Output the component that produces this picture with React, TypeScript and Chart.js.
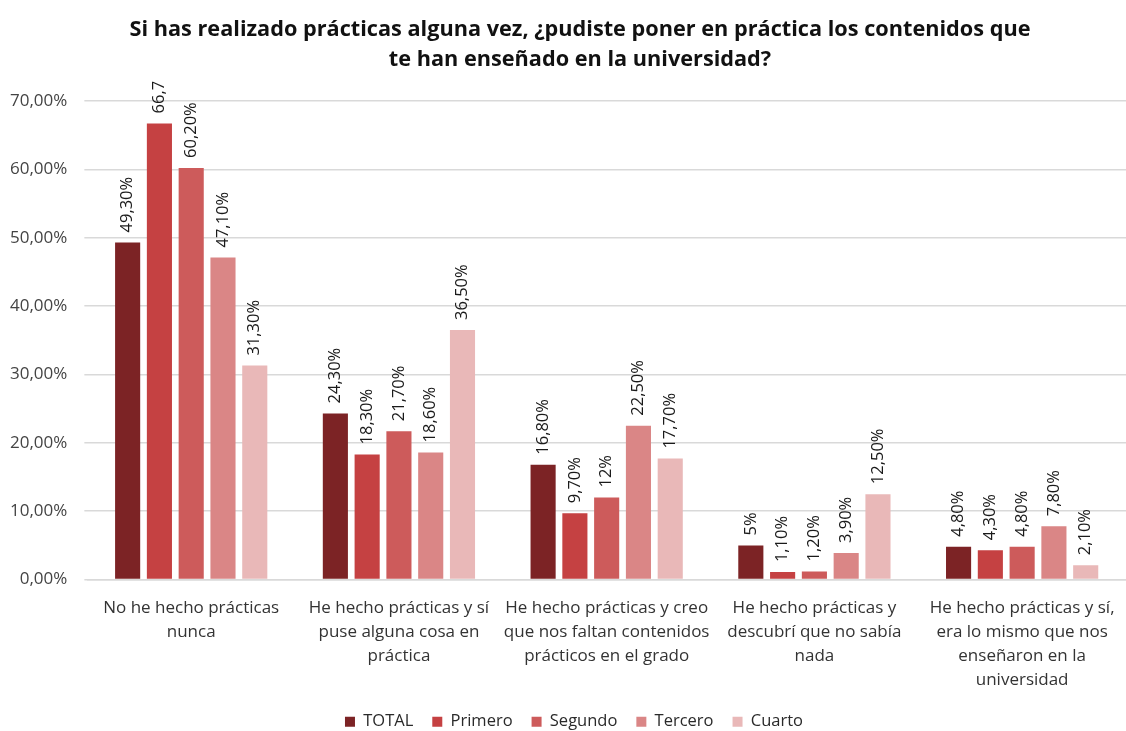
import React, { useEffect, useRef } from "react";
import { Chart, registerables } from "chart.js";

Chart.register(...registerables);

const titleLines = [
  "Si has realizado prácticas alguna vez, ¿pudiste poner en práctica los contenidos que",
  "te han enseñado en la universidad?",
];

const categories = [
  ["No he hecho prácticas", "nunca"],
  ["He hecho prácticas y sí", "puse alguna cosa en", "práctica"],
  ["He hecho prácticas y creo", "que nos faltan contenidos", "prácticos en el grado"],
  ["He hecho prácticas y", "descubrí que no sabía", "nada"],
  ["He hecho prácticas y sí,", "era lo mismo que nos", "enseñaron en la", "universidad"],
];

const seriesNames = ["TOTAL", "Primero", "Segundo", "Tercero", "Cuarto"];
const seriesColors = ["#7C2325", "#C54142", "#CD5B5B", "#DA8686", "#E9B8B8"];

const totalValues = [49.3, 24.3, 16.8, 5, 4.8];
const primeroValues = [66.7, 18.3, 9.7, 1.1, 4.3];
const segundoValues = [60.2, 21.7, 12, 1.2, 4.8];
const terceroValues = [47.1, 18.6, 22.5, 3.9, 7.8];
const cuartoValues = [31.3, 36.5, 17.7, 12.5, 2.1];

const totalLabels = ["49,30%", "24,30%", "16,80%", "5%", "4,80%"];
const primeroLabels = ["66,7", "18,30%", "9,70%", "1,10%", "4,30%"];
const segundoLabels = ["60,20%", "21,70%", "12%", "1,20%", "4,80%"];
const terceroLabels = ["47,10%", "18,60%", "22,50%", "3,90%", "7,80%"];
const cuartoLabels = ["31,30%", "36,50%", "17,70%", "12,50%", "2,10%"];

const seriesValues = [totalValues, primeroValues, segundoValues, terceroValues, cuartoValues];
const seriesLabels = [totalLabels, primeroLabels, segundoLabels, terceroLabels, cuartoLabels];

const FONT = "'Open Sans', 'DejaVu Sans', sans-serif";

const valueLabelPlugin = {
  id: "valueLabels",
  afterLayout(chart: any) {
    // shift the title and legend boxes so they are centred like the reference
    if (chart.titleBlock) chart.titleBlock.left = 34;
    if (chart.legend) chart.legend.left = 22;
  },
  afterDatasetsDraw(chart: any) {
    const ctx = chart.ctx;
    chart.data.datasets.forEach((ds: any, di: number) => {
      const meta = chart.getDatasetMeta(di);
      meta.data.forEach((el: any, i: number) => {
        const text = seriesLabels[di][i];
        ctx.save();
        ctx.translate(el.x, el.y - 10);
        ctx.rotate(-Math.PI / 2);
        ctx.font = `16.5px ${FONT}`;
        ctx.fillStyle = "#1a1a1a";
        ctx.textAlign = "left";
        ctx.textBaseline = "middle";
        ctx.fillText(text, 0, 0);
        ctx.restore();
      });
    });
  },
};

export default function App() {
  const canvasRef = useRef<HTMLCanvasElement | null>(null);

  useEffect(() => {
    if (!canvasRef.current) return;
    const chart = new Chart(canvasRef.current, {
      type: "bar",
      data: {
        labels: categories,
        datasets: seriesNames.map((name, i) => ({
          label: name,
          data: seriesValues[i],
          backgroundColor: seriesColors[i],
          borderWidth: 0,
          barPercentage: 0.79,
          categoryPercentage: 0.765,
        })),
      },
      options: {
        responsive: false,
        animation: false,
        layout: { padding: { left: -7, right: 0, top: 0, bottom: -9 } },
        plugins: {
          title: {
            display: true,
            text: titleLines,
            color: "#111",
            font: { family: FONT, size: 21.7, weight: "bold", lineHeight: 1.38 },
            padding: { top: 15, bottom: 26 },
          },
          legend: {
            position: "bottom",
            labels: {
              boxWidth: 10,
              boxHeight: 10,
              color: "#2a2a2a",
              padding: 19,
              font: { family: FONT, size: 16.5 },
            },
          },
          tooltip: { enabled: false },
        },
        scales: {
          x: {
            grid: {
              display: true,
              drawOnChartArea: false,
              drawTicks: true,
              tickLength: 15,
              color: "rgba(0,0,0,0)",
            },
            border: { display: true, color: "#d9d9d9", width: 1.5 },
            ticks: {
              color: "#333",
              maxRotation: 0,
              autoSkip: false,
              padding: 2,
              font: { family: FONT, size: 17, lineHeight: 1.41 },
            },
          },
          y: {
            min: 0,
            max: 70,
            border: { display: false },
            grid: { color: "#d9d9d9", lineWidth: 1.5, drawTicks: true, tickLength: 3 },
            ticks: {
              stepSize: 10,
              color: "#444",
              padding: 17,
              font: { family: FONT, size: 17 },
              callback: (v: any) => Number(v).toFixed(2).replace(".", ",") + "%",
            },
          },
        },
      },
      plugins: [valueLabelPlugin],
    });
    return () => chart.destroy();
  }, []);

  return (
    <div style={{ position: "fixed", left: 0, top: 0, width: 1126, height: 731, background: "#fff" }}>
      <canvas ref={canvasRef} width={1126} height={731} />
    </div>
  );
}
